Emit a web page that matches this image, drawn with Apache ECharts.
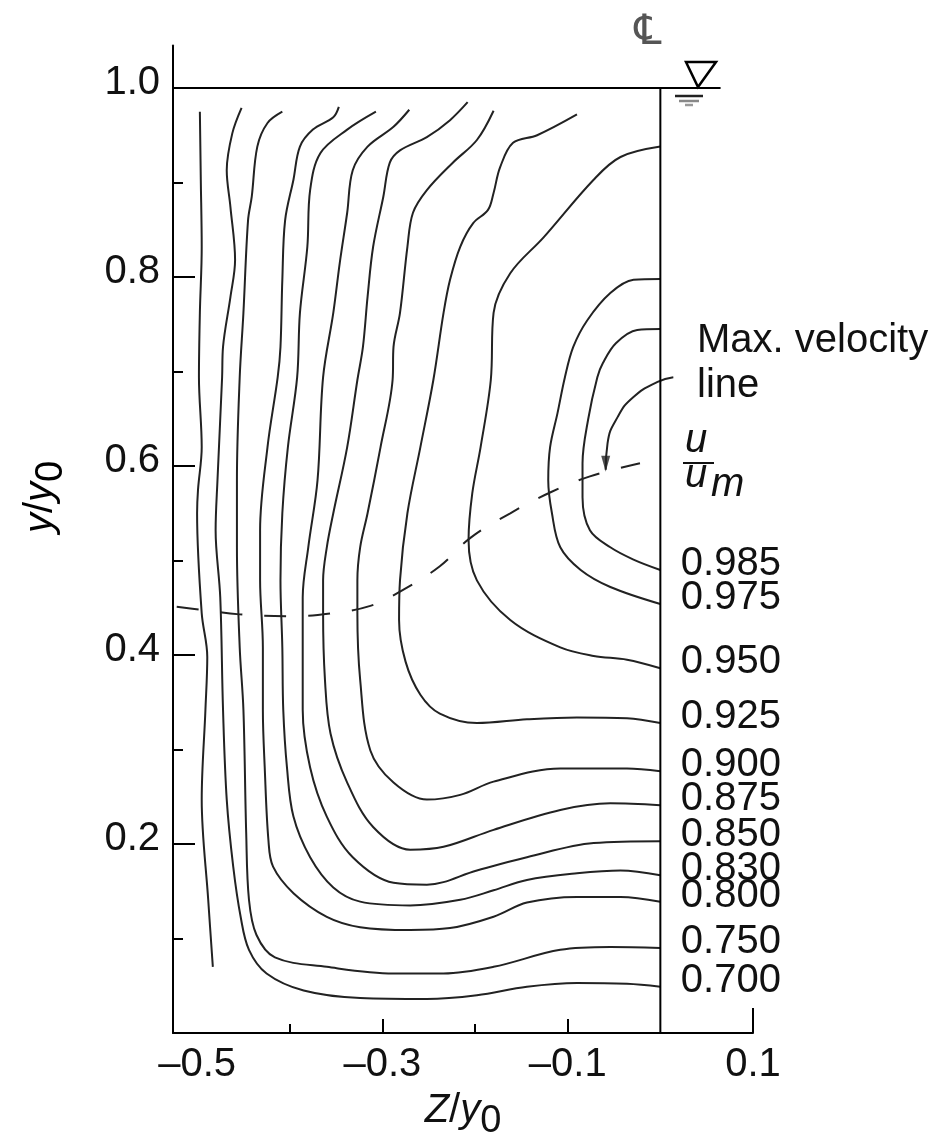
<!DOCTYPE html>
<html><head><meta charset="utf-8">
<script src="https://cdn.jsdelivr.net/npm/echarts@6/dist/echarts.min.js"></script>
<style>html,body{margin:0;padding:0;background:#fff}#c{width:935px;height:1147px}</style>
</head><body><div id="c"></div>
<script>
// ---------- tick values ----------
const xTickLabels = [-0.5, -0.3, -0.1, 0.1];
const xMajorTicks = [-0.3, -0.1];
const xMinorTicks = [-0.4, -0.2];
const xEndTick = [0.1];
const yTickLabels = [0.2, 0.4, 0.6, 0.8, 1.0];
const yMajorTicks = [0.2, 0.4, 0.6, 0.8];
const yMinorTicks = [0.1, 0.3, 0.5, 0.7, 0.9];

// ---------- isovel (u/um) contours, [z/y0, y/y0] ----------
const cUnlabeled = [[-0.497,0.975],[-0.496,0.903],[-0.495,0.832],[-0.497,0.762],[-0.498,0.694],[-0.495,0.620],[-0.499,0.575],[-0.500,0.550],[-0.495,0.444],[-0.489,0.398],[-0.491,0.342],[-0.495,0.247],[-0.488,0.141],[-0.483,0.070]];
const c700 = [[-0.452,0.979],[-0.462,0.952],[-0.468,0.913],[-0.464,0.874],[-0.459,0.818],[-0.464,0.779],[-0.472,0.726],[-0.473,0.694],[-0.478,0.585],[-0.480,0.532],[-0.475,0.461],[-0.472,0.342],[-0.468,0.247],[-0.461,0.176],[-0.453,0.123],[-0.444,0.088],[-0.425,0.063],[-0.385,0.045],[-0.324,0.037],[-0.252,0.036],[-0.198,0.040],[-0.144,0.049],[-0.090,0.053],[-0.036,0.052],[0,0.049]];
const c750 = [[-0.408,0.975],[-0.424,0.963],[-0.435,0.938],[-0.441,0.885],[-0.445,0.860],[-0.450,0.762],[-0.454,0.694],[-0.457,0.585],[-0.457,0.514],[-0.454,0.408],[-0.450,0.342],[-0.447,0.212],[-0.444,0.141],[-0.436,0.104],[-0.416,0.080],[-0.360,0.070],[-0.288,0.063],[-0.234,0.063],[-0.180,0.070],[-0.108,0.088],[-0.054,0.091],[0,0.090]];
const c800 = [[-0.347,0.980],[-0.353,0.969],[-0.375,0.956],[-0.389,0.938],[-0.396,0.903],[-0.405,0.860],[-0.408,0.797],[-0.410,0.726],[-0.413,0.694],[-0.424,0.620],[-0.432,0.532],[-0.432,0.479],[-0.429,0.408],[-0.429,0.342],[-0.427,0.281],[-0.423,0.204],[-0.418,0.176],[-0.396,0.148],[-0.360,0.123],[-0.324,0.112],[-0.270,0.109],[-0.227,0.111],[-0.180,0.123],[-0.144,0.138],[-0.090,0.144],[-0.043,0.144],[0,0.139]];
const c830 = [[-0.307,0.975],[-0.338,0.956],[-0.367,0.931],[-0.378,0.892],[-0.381,0.832],[-0.389,0.762],[-0.392,0.694],[-0.402,0.620],[-0.408,0.550],[-0.410,0.479],[-0.408,0.408],[-0.407,0.342],[-0.403,0.281],[-0.396,0.229],[-0.378,0.186],[-0.353,0.154],[-0.324,0.139],[-0.270,0.135],[-0.216,0.141],[-0.180,0.151],[-0.144,0.162],[-0.090,0.169],[-0.043,0.172],[0,0.167]];
const c850 = [[-0.271,0.977],[-0.288,0.959],[-0.316,0.938],[-0.332,0.913],[-0.338,0.868],[-0.346,0.815],[-0.353,0.762],[-0.364,0.694],[-0.370,0.585],[-0.380,0.514],[-0.386,0.461],[-0.386,0.426],[-0.386,0.342],[-0.378,0.281],[-0.360,0.229],[-0.332,0.186],[-0.288,0.159],[-0.252,0.157],[-0.198,0.172],[-0.144,0.186],[-0.072,0.201],[0,0.203]];
const c875 = [[-0.208,0.985],[-0.227,0.966],[-0.252,0.948],[-0.281,0.934],[-0.292,0.921],[-0.299,0.885],[-0.310,0.832],[-0.316,0.779],[-0.321,0.726],[-0.327,0.691],[-0.338,0.620],[-0.353,0.550],[-0.360,0.514],[-0.364,0.479],[-0.364,0.444],[-0.362,0.374],[-0.356,0.317],[-0.338,0.265],[-0.310,0.218],[-0.270,0.194],[-0.234,0.197],[-0.180,0.215],[-0.108,0.236],[-0.054,0.243],[0,0.241]];
const c900 = [[-0.180,0.976],[-0.198,0.945],[-0.224,0.921],[-0.252,0.892],[-0.267,0.868],[-0.273,0.832],[-0.281,0.762],[-0.288,0.726],[-0.289,0.691],[-0.302,0.620],[-0.316,0.550],[-0.324,0.514],[-0.327,0.479],[-0.327,0.444],[-0.324,0.374],[-0.313,0.299],[-0.288,0.265],[-0.252,0.247],[-0.216,0.252],[-0.180,0.266],[-0.108,0.280],[-0.036,0.280],[0,0.277]];
const c925 = [[-0.090,0.972],[-0.133,0.950],[-0.159,0.942],[-0.173,0.916],[-0.180,0.889],[-0.186,0.871],[-0.202,0.857],[-0.216,0.832],[-0.227,0.797],[-0.234,0.762],[-0.245,0.691],[-0.259,0.620],[-0.273,0.550],[-0.281,0.479],[-0.282,0.437],[-0.275,0.393],[-0.259,0.358],[-0.238,0.338],[-0.198,0.328],[-0.144,0.332],[-0.090,0.334],[-0.036,0.333],[0,0.328]];
const c950 = [[0,0.938],[-0.043,0.927],[-0.072,0.903],[-0.126,0.842],[-0.162,0.804],[-0.180,0.762],[-0.183,0.691],[-0.194,0.620],[-0.203,0.571],[-0.207,0.522],[-0.198,0.479],[-0.162,0.437],[-0.108,0.408],[-0.072,0.399],[-0.036,0.395],[0,0.386]];
const c975 = [[0,0.798],[-0.029,0.797],[-0.054,0.783],[-0.079,0.754],[-0.094,0.726],[-0.103,0.694],[-0.111,0.656],[-0.119,0.620],[-0.121,0.585],[-0.117,0.550],[-0.108,0.514],[-0.086,0.490],[-0.054,0.472],[0,0.454]];
const c985 = [[0,0.745],[-0.025,0.744],[-0.048,0.730],[-0.062,0.709],[-0.068,0.694],[-0.078,0.649],[-0.084,0.603],[-0.084,0.567],[-0.076,0.532],[-0.054,0.514],[-0.029,0.501],[0,0.490]];

const contourNames  = ['', '0.700', '0.750', '0.800', '0.830', '0.850', '0.875', '0.900', '0.925', '0.950', '0.975', '0.985'];
const contourPoints = [cUnlabeled, c700, c750, c800, c830, c850, c875, c900, c925, c950, c975, c985];

// max. velocity line (dashed)
const maxVelocityLine = [[-0.522,0.451],[-0.497,0.448],[-0.454,0.443],[-0.400,0.441],[-0.356,0.444],[-0.313,0.452],[-0.281,0.467],[-0.238,0.494],[-0.205,0.524],[-0.162,0.550],[-0.119,0.572],[-0.076,0.589],[-0.022,0.603]];
// annotation arrow
const arrowPath = [[0.014,0.694],[-0.003,0.689],[-0.029,0.673],[-0.046,0.652],[-0.057,0.624],[-0.059,0.596]];
// free surface and centre line
const freeSurface = [[-0.526,1.0],[0.065,1.0]];
const centreLine = [[0,0],[0,1.0]];

// ---------- chart ----------
const X_MIN = -0.526, X_MAX = 0.1, Y_MIN = 0, Y_MAX = 1.045;
const FONT = '"Liberation Sans", Arial, Helvetica, sans-serif';
const INK = '#111';
const LINE = '#222';
const fmtX = v => (v < 0 ? '\u2013' : '') + Math.abs(v).toFixed(1);

const chart = echarts.init(document.getElementById('c'), null, {renderer: 'canvas'});

const tickStyle = {color: '#000', width: 2};
function xAx(extra) {
  return Object.assign({
    type: 'value', min: X_MIN, max: X_MAX, position: 'bottom',
    splitLine: {show: false}, axisLine: {show: false, onZero: false}, axisLabel: {show: false}
  }, extra);
}
function yAx(extra) {
  return Object.assign({
    type: 'value', min: Y_MIN, max: Y_MAX, position: 'left',
    splitLine: {show: false}, axisLine: {show: false, onZero: false}, axisLabel: {show: false}
  }, extra);
}
const richName = {
  i: {fontStyle: 'italic', fontSize: 40, fontFamily: FONT, color: INK, lineHeight: 40, verticalAlign: 'top'},
  r: {fontSize: 40, fontFamily: FONT, color: INK, lineHeight: 40, verticalAlign: 'top'},
  s: {fontSize: 38, fontFamily: FONT, color: INK, lineHeight: 40, verticalAlign: 'top', padding: [12, 0, 0, 0]}
};

const series = [];
contourPoints.forEach((pts, k) => {
  series.push({
    type: 'line', name: contourNames[k] || 'unlabeled', data: pts, smooth: 0.35,
    symbol: 'none', silent: true, clip: false,
    lineStyle: {color: LINE, width: 2}
  });
});
series.push({
  type: 'line', name: 'max velocity line', data: maxVelocityLine, smooth: 0.4, symbol: 'none', silent: true,
  lineStyle: {color: LINE, width: 2, type: [22, 22]}
});
series.push({
  type: 'line', name: 'arrow', data: arrowPath, smooth: 0.5, symbol: 'none', silent: true, clip: false,
  lineStyle: {color: LINE, width: 2}
});
series.push({
  type: 'scatter', name: 'arrowhead', data: [arrowPath[arrowPath.length - 1]], silent: true, clip: false,
  symbol: 'triangle', symbolSize: [9, 16], symbolRotate: 180, symbolOffset: [0, -6],
  itemStyle: {color: LINE}
});
series.push({
  type: 'line', name: 'free surface', data: freeSurface, symbol: 'none', silent: true, clip: false,
  lineStyle: {color: '#000', width: 2}
});
series.push({
  type: 'line', name: 'centre line', data: centreLine, symbol: 'none', silent: true,
  lineStyle: {color: '#000', width: 2}
});
// labels at the centre-line end of each contour
const labelData = [];
contourPoints.forEach((pts, k) => {
  if (contourNames[k]) labelData.push({value: pts[pts.length - 1], name: contourNames[k]});
});
series.push({
  type: 'scatter', name: 'labels', data: labelData, symbolSize: 1, silent: true, clip: false,
  itemStyle: {color: 'rgba(255,255,255,0)'},
  label: {show: true, position: 'right', distance: 20, offset: [0, -6], formatter: '{b}',
          fontSize: 40, fontFamily: FONT, color: INK, opacity: 1, textBorderWidth: 0}
});

const option = {
  animation: false,
  backgroundColor: '#fff',
  grid: {left: 173, right: 182, top: 45.5, bottom: 114, containLabel: false},
  xAxis: [
    xAx({
      axisLine: {show: true, onZero: false, lineStyle: {color: '#000', width: 2}},
      axisTick: {show: true, inside: true, length: 14, customValues: xMajorTicks, lineStyle: tickStyle},
      axisLabel: {show: true, customValues: xTickLabels, formatter: fmtX, fontSize: 40,
                  fontFamily: FONT, color: INK, margin: 12},
      name: '{i|Z}{r|/}{i|y}{s|0}', nameLocation: 'middle', nameGap: 58,
      nameTextStyle: {fontSize: 40, fontFamily: FONT, color: INK, rich: richName}
    }),
    xAx({axisTick: {show: true, inside: true, length: 9, customValues: xMinorTicks, lineStyle: tickStyle}}),
    xAx({axisTick: {show: true, inside: true, length: 25, customValues: xEndTick, lineStyle: tickStyle}})
  ],
  yAxis: [
    yAx({
      axisLine: {show: true, onZero: false, lineStyle: {color: '#000', width: 2}},
      axisTick: {show: true, inside: true, length: 22, customValues: yMajorTicks, lineStyle: tickStyle},
      axisLabel: {show: true, customValues: yTickLabels, formatter: v => '{a|' + v.toFixed(1) + '}',
                  fontSize: 40, fontFamily: FONT, color: INK, margin: 13,
                  rich: {a: {fontSize: 40, fontFamily: FONT, color: INK, lineHeight: 40, padding: [0, 0, 10, 0]}}}
    }),
    yAx({axisTick: {show: true, inside: true, length: 10, customValues: yMinorTicks, lineStyle: tickStyle}})
  ],
  series: series,
  graphic: [
    // y-axis title
    {type: 'text', x: 41, y: 497, rotation: Math.PI / 2, silent: true,
     style: {text: '{i|y}{r|/}{i|y}{s|0}', align: 'center', verticalAlign: 'middle', rich: richName}},
    // annotation text
    {type: 'text', x: 697, y: 341, silent: true,
     style: {text: 'Max. velocity', font: '40px ' + FONT, fill: INK, align: 'left', verticalAlign: 'middle'}},
    {type: 'text', x: 697, y: 386, silent: true,
     style: {text: 'line', font: '40px ' + FONT, fill: INK, align: 'left', verticalAlign: 'middle'}},
    // u / u_m
    {type: 'text', x: 685, y: 441, silent: true,
     style: {text: 'u', font: 'italic 40px ' + FONT, fill: INK, align: 'left', verticalAlign: 'middle'}},
    {type: 'line', silent: true, shape: {x1: 683, y1: 463, x2: 714, y2: 463}, style: {stroke: INK, lineWidth: 2}},
    {type: 'text', x: 685, y: 476, silent: true,
     style: {text: 'u', font: 'italic 40px ' + FONT, fill: INK, align: 'left', verticalAlign: 'middle'}},
    {type: 'text', x: 711, y: 485, silent: true,
     style: {text: 'm', font: 'italic 40px ' + FONT, fill: INK, align: 'left', verticalAlign: 'middle'}},
    // centre-line symbol
    {type: 'text', x: 648, y: 33, silent: true,
     style: {text: '\u2104', font: '42px "DejaVu Sans", sans-serif', fill: '#555', align: 'center', verticalAlign: 'middle'}},
    // water-surface symbol
    {type: 'polygon', silent: true, shape: {points: [[686, 62], [716, 62], [698, 87]]},
     style: {fill: 'none', stroke: '#000', lineWidth: 2.5}},
    {type: 'line', silent: true, shape: {x1: 675, y1: 96, x2: 703, y2: 96}, style: {stroke: '#222', lineWidth: 2.5}},
    {type: 'line', silent: true, shape: {x1: 679, y1: 101, x2: 699, y2: 101}, style: {stroke: '#888', lineWidth: 2.5}},
    {type: 'line', silent: true, shape: {x1: 685, y1: 105, x2: 693, y2: 105}, style: {stroke: '#999', lineWidth: 2.5}}
  ]
};
chart.setOption(option);
</script>
</body></html>
